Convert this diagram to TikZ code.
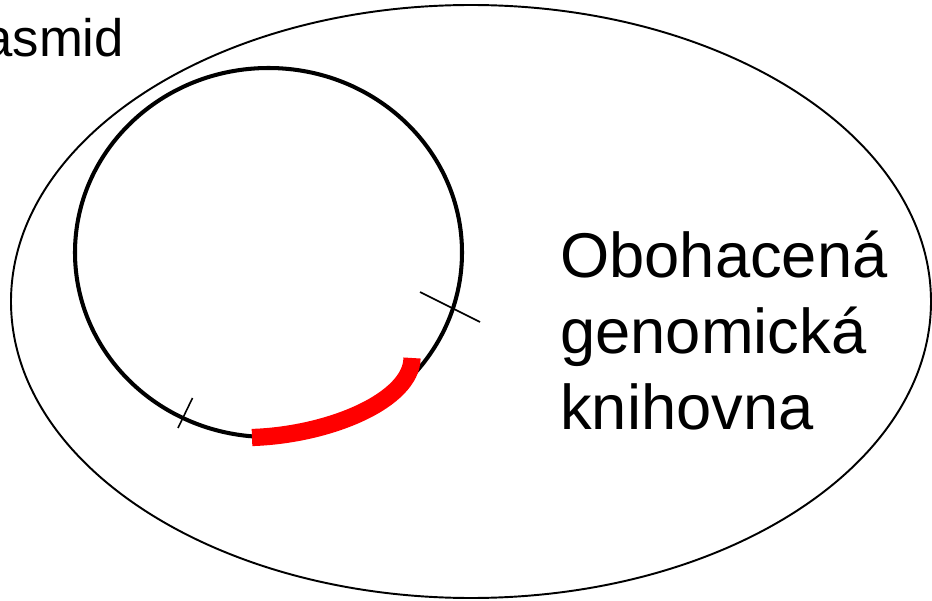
\documentclass[tikz,border=0pt]{standalone}
\usepackage{fontspec}
\setmainfont{Liberation Sans}
\usepackage{tikz}
\usetikzlibrary{calc}

\begin{document}
\begin{tikzpicture}[
    cutmark/.style={black, line width=0.9pt},
    bigtext/.style={inner sep=0pt, font=\fontsize{36}{43}\selectfont, align=left}
]
    \useasboundingbox (0,0) rectangle (18.64,12);
    % Enriched library
    \draw[line width=1.1pt] (9.42,5.97) ellipse [x radius=9.2, y radius=5.93];
    % Plasmid ring
    \coordinate (ring) at (5.37,6.95);
    \draw[line width=2.3pt] (ring) ellipse [x radius=3.87, y radius=3.69];
    % Insert
    \draw[red, line width=9.8pt] (5.04,3.25) .. controls (6.60,3.30) and (8.24,4.00) .. (8.24,4.84);
    % Cut sites
    \draw[cutmark] (3.56,3.44) -- (3.85,4.04);
    \draw[cutmark] (8.40,6.16) -- (9.60,5.56);
    % Labels
    \node[bigtext, font=\fontsize{30}{36}\selectfont, anchor=base west] (plasmid) at (-0.34,10.86) {asmid};
    \node[bigtext, anchor=base west] (library) at (11.2,3.42) {Obohacená\\genomická\\knihovna};
\end{tikzpicture}
\end{document}
